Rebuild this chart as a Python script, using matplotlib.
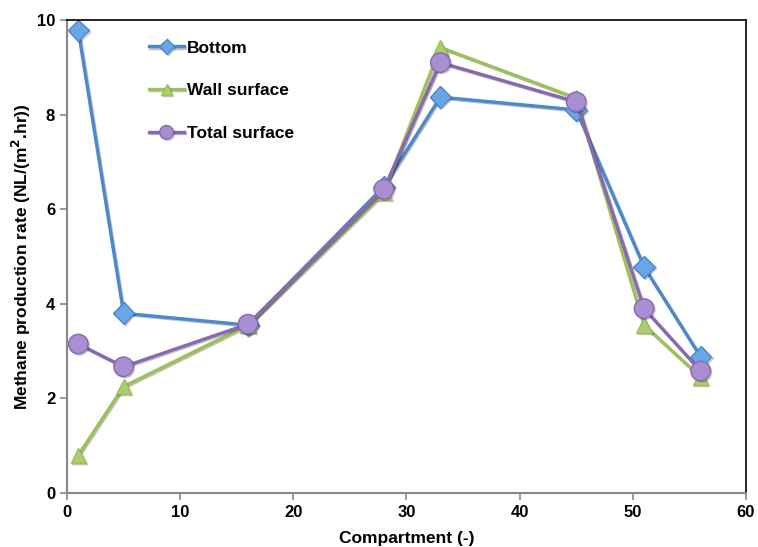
import numpy as np
import matplotlib.pyplot as plt
import matplotlib.patheffects as pe

# methane production per compartment, three surface normalisations
compartment = [1, 5, 16, 28, 33, 45, 51, 56]
bottom = [9.78, 3.80, 3.55, 6.48, 8.37, 8.10, 4.78, 2.88]
wall_surface = [0.80, 2.25, 3.55, 6.35, 9.42, 8.35, 3.55, 2.45]
total_surface = [3.15, 2.67, 3.57, 6.42, 9.10, 8.27, 3.90, 2.58]

plt.rcParams['font.family'] = ['Liberation Sans', 'DejaVu Sans']
plt.rcParams['font.weight'] = 'bold'

fig = plt.figure(figsize=(7.58, 5.47), dpi=100)
ax = fig.add_axes([0.0884, 0.0987, 0.8956, 0.8647])

shadow = [pe.SimpleLineShadow(offset=(0.8, -0.8), alpha=0.25), pe.Normal()]

series = [
    (bottom, 'Bottom', 'D', '#4a88cf', '#6aa6e6', 11),
    (wall_surface, 'Wall surface', '^', '#9cc158', '#abcf6e', 11),
    (total_surface, 'Total surface', 'o', '#8a68b0', '#a98ed2', 14),
]
for vals, lab, mk, lc, fc, ms in series:
    ax.plot(compartment, vals, color=lc, lw=2.4, marker=mk, ms=ms,
            mfc=fc, mec=lc, mew=1.0, label=lab, path_effects=shadow)

ax.set_xlim(0, 60)
ax.set_ylim(0, 10)
ax.set_xticks(range(0, 61, 10))
ax.set_yticks(range(0, 11, 2))
ax.tick_params(labelsize=12, colors='black', length=5, width=1.2)
ax.tick_params(axis='both', color='#888888')
for s in ('left', 'bottom'):
    ax.spines[s].set_color('#888888')
    ax.spines[s].set_linewidth(1.5)
for s in ('top', 'right'):
    ax.spines[s].set_color('black')
    ax.spines[s].set_linewidth(1.2)

ax.set_xlabel('Compartment (-)', fontsize=12.5, fontweight='bold', labelpad=8)
ax.set_ylabel('Methane production rate (NL/(m$^\\mathbf{2}$.hr))',
              fontsize=12.5, fontweight='bold', labelpad=3)

leg = ax.legend(loc='upper left', bbox_to_anchor=(0.098, 0.99), frameon=False,
                fontsize=12.5, labelspacing=1.6, handlelength=2.0,
                handletextpad=0.2, markerscale=0.7)

fig.savefig('out.png', dpi=100)
